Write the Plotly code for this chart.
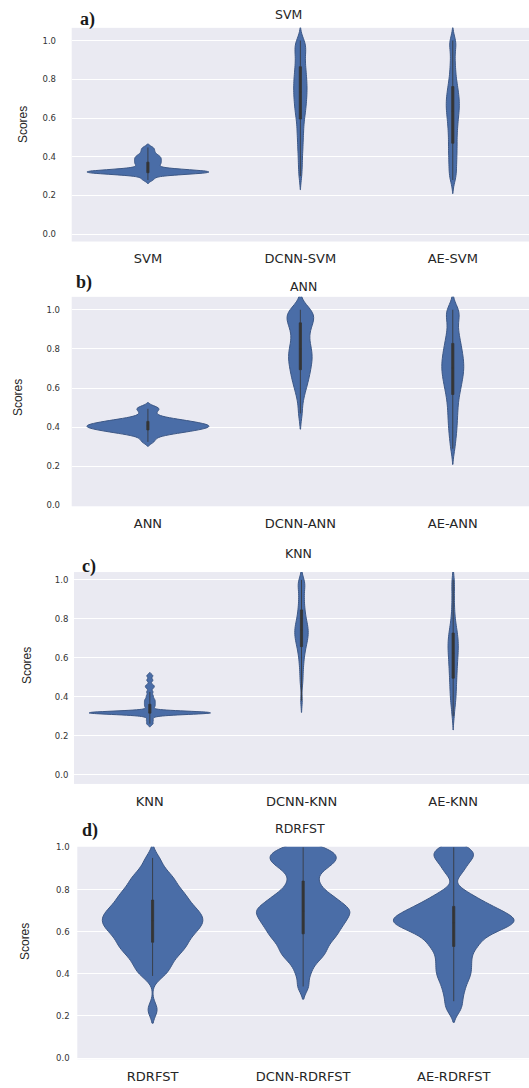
import plotly.graph_objects as go

# ------------------------------------------------------------------ data
panel_titles = ["SVM", "ANN", "KNN", "RDRFST"]
panel_letters = ["a)", "b)", "c)", "d)"]

svm_cats = ["SVM", "DCNN-SVM", "AE-SVM"]
ann_cats = ["ANN", "DCNN-ANN", "AE-ANN"]
knn_cats = ["KNN", "DCNN-KNN", "AE-KNN"]
rdr_cats = ["RDRFST", "DCNN-RDRFST", "AE-RDRFST"]

y_tick_vals = [0.0, 0.2, 0.4, 0.6, 0.8, 1.0]
y_tick_text = ["0.0", "0.2", "0.4", "0.6", "0.8", "1.0"]

# panel a) scores
svm_scores = [0.280, 0.292, 0.305, 0.309, 0.311, 0.313, 0.314, 0.315, 0.316, 0.317,
              0.318, 0.319, 0.320, 0.321, 0.322, 0.323, 0.324, 0.325, 0.326, 0.327,
              0.329, 0.330, 0.331, 0.333, 0.337, 0.340, 0.350, 0.357, 0.363, 0.369,
              0.375, 0.381, 0.387, 0.393, 0.399, 0.405, 0.413, 0.424, 0.436, 0.448]
dcnn_svm_scores = [0.30, 0.35, 0.39, 0.43, 0.46, 0.49, 0.52, 0.54, 0.57, 0.59,
                   0.61, 0.63, 0.64, 0.66, 0.67, 0.685, 0.70, 0.71, 0.725, 0.735,
                   0.75, 0.76, 0.77, 0.785, 0.80, 0.81, 0.82, 0.84, 0.85, 0.87,
                   0.88, 0.90, 0.92, 0.935, 0.95, 0.965, 0.98, 0.99, 1.0]
ae_svm_scores = [0.28, 0.30, 0.32, 0.345, 0.365, 0.385, 0.405, 0.425, 0.445, 0.46,
                 0.48, 0.50, 0.52, 0.535, 0.555, 0.57, 0.585, 0.60, 0.615, 0.63,
                 0.64, 0.65, 0.665, 0.675, 0.69, 0.70, 0.71, 0.725, 0.74, 0.755,
                 0.77, 0.79, 0.81, 0.84, 0.865, 0.90, 0.935, 0.975, 0.99, 1.0]

# panel b) scores
ann_scores = [0.325, 0.343, 0.357, 0.364, 0.369, 0.373, 0.376, 0.379, 0.382, 0.385,
              0.387, 0.390, 0.392, 0.394, 0.396, 0.398, 0.400, 0.402, 0.404, 0.406,
              0.408, 0.410, 0.412, 0.414, 0.416, 0.418, 0.420, 0.423, 0.425, 0.428,
              0.431, 0.434, 0.437, 0.441, 0.446, 0.453, 0.467, 0.483, 0.494, 0.503]
dcnn_ann_scores = [0.47, 0.54, 0.58, 0.605, 0.625, 0.645, 0.66, 0.675, 0.69, 0.705,
                   0.718, 0.73, 0.742, 0.754, 0.766, 0.777, 0.789, 0.80, 0.815, 0.829,
                   0.844, 0.862, 0.881, 0.90, 0.912, 0.924, 0.936, 0.948, 0.957, 0.966,
                   0.975, 0.985, 0.994, 1.0, 1.0]
ae_ann_scores = [0.29, 0.34, 0.375, 0.405, 0.435, 0.46, 0.487, 0.512, 0.535, 0.557,
                 0.577, 0.593, 0.608, 0.624, 0.637, 0.65, 0.662, 0.675, 0.686, 0.697,
                 0.708, 0.719, 0.73, 0.742, 0.754, 0.765, 0.778, 0.792, 0.806, 0.82,
                 0.836, 0.853, 0.871, 0.894, 0.918, 0.945, 0.975, 0.985, 0.995, 1.0]

# panel c) scores
knn_scores = [0.262, 0.280, 0.298, 0.312, 0.313, 0.314, 0.315, 0.315, 0.316, 0.316,
              0.317, 0.317, 0.317, 0.318, 0.318, 0.319, 0.319, 0.319, 0.320, 0.320,
              0.321, 0.321, 0.322, 0.323, 0.324, 0.345, 0.356, 0.367, 0.378, 0.389,
              0.405, 0.425, 0.447, 0.459, 0.485, 0.508]
dcnn_knn_scores = [0.38, 0.465, 0.50, 0.535, 0.563, 0.586, 0.606, 0.626, 0.638, 0.651,
                   0.664, 0.676, 0.684, 0.692, 0.70, 0.708, 0.716, 0.724, 0.731, 0.739,
                   0.746, 0.754, 0.761, 0.769, 0.777, 0.788, 0.80, 0.811, 0.823, 0.838,
                   0.854, 0.87, 0.889, 0.908, 0.928, 0.948, 0.968, 0.98, 0.99, 1.0]
ae_knn_scores = [0.30, 0.347, 0.373, 0.394, 0.415, 0.434, 0.452, 0.471, 0.487, 0.504,
                 0.52, 0.535, 0.55, 0.564, 0.578, 0.591, 0.604, 0.617, 0.629, 0.64,
                 0.651, 0.662, 0.673, 0.685, 0.696, 0.708, 0.72, 0.734, 0.75, 0.767,
                 0.791, 0.821, 0.862, 0.91, 0.962, 1.0]

# panel d) scores
rdrfst_scores = [0.23, 0.39, 0.41, 0.43, 0.45, 0.47, 0.48, 0.50, 0.51, 0.52,
                 0.53, 0.54, 0.55, 0.56, 0.57, 0.58, 0.59, 0.60, 0.605, 0.61,
                 0.62, 0.63, 0.635, 0.64, 0.65, 0.655, 0.66, 0.67, 0.675, 0.68,
                 0.69, 0.70, 0.705, 0.71, 0.72, 0.73, 0.74, 0.75, 0.76, 0.77,
                 0.78, 0.79, 0.80, 0.82, 0.83, 0.85, 0.86, 0.88, 0.91, 0.95]
dcnn_rdrfst_scores = [0.34, 0.40, 0.44, 0.47, 0.485, 0.50, 0.515, 0.53, 0.545, 0.56,
                      0.57, 0.58, 0.59, 0.60, 0.61, 0.62, 0.63, 0.64, 0.645, 0.655,
                      0.66, 0.67, 0.68, 0.69, 0.695, 0.70, 0.705, 0.71, 0.72, 0.73,
                      0.74, 0.75, 0.76, 0.77, 0.78, 0.80, 0.82, 0.84, 0.87, 0.89,
                      0.91, 0.92, 0.93, 0.94, 0.95, 0.96, 0.97, 0.98, 0.99, 1.0]
ae_rdrfst_scores = [0.23, 0.27, 0.31, 0.34, 0.37, 0.39, 0.41, 0.43, 0.45, 0.47,
                    0.49, 0.51, 0.53, 0.54, 0.55, 0.57, 0.58, 0.59, 0.60, 0.61,
                    0.615, 0.62, 0.63, 0.635, 0.64, 0.645, 0.65, 0.655, 0.66, 0.665,
                    0.67, 0.675, 0.68, 0.69, 0.70, 0.705, 0.71, 0.72, 0.73, 0.74,
                    0.755, 0.77, 0.79, 0.88, 0.91, 0.94, 0.955, 0.97, 0.985, 1.0]

panel_cats = [svm_cats, ann_cats, knn_cats, rdr_cats]
panel_scores = [
    [svm_scores, dcnn_svm_scores, ae_svm_scores],
    [ann_scores, dcnn_ann_scores, ae_ann_scores],
    [knn_scores, dcnn_knn_scores, ae_knn_scores],
    [rdrfst_scores, dcnn_rdrfst_scores, ae_rdrfst_scores],
]

# ------------------------------------------------------------------ style / layout
W, H = 529, 1088
kde_bandwidths = [[0.009, 0.035, 0.035],
                  [0.011, 0.04, 0.04],
                  [0.008, 0.03, 0.035],
                  [0.032, 0.03, 0.03]]
panel_geom = [
    dict(top=24, bottom=239.3, left=71.7, yr=[-0.038, 1.066], ylen=13),
    dict(top=295, bottom=506, left=71.7, yr=[-0.004, 1.066], ylen=9),
    dict(top=572.3, bottom=785.7, left=74, yr=[-0.047, 1.04], ylen=3),
    dict(top=849, bottom=1063, left=77.3, yr=[-0.005, 1.003], ylen=5),
]
title_pos = [(288, 11), (303, 285), (298, 554), (300, 831)]
letter_pos = [(87, 16), (84, 281), (89, 567), (90, 833)]
ylabel_pos = [(23, 122), (18, 397), (27, 667), (25, 945)]

VIOLIN_FILL = "#4A6DA7"
VIOLIN_EDGE = "#3C5785"
BOX_COLOR = "#353535"
BG = "#EAEAF2"

fig = go.Figure()
layout = dict(
    width=W, height=H, margin=dict(l=0, r=0, t=0, b=0),
    paper_bgcolor="white", plot_bgcolor=BG, showlegend=False,
    violinmode="overlay", violingap=0.2, violingroupgap=0,
    annotations=[],
)

for i in range(4):
    g = panel_geom[i]
    xa = "x" if i == 0 else f"x{i+1}"
    ya = "y" if i == 0 else f"y{i+1}"
    xkey = "xaxis" if i == 0 else f"xaxis{i+1}"
    ykey = "yaxis" if i == 0 else f"yaxis{i+1}"
    layout[xkey] = dict(
        domain=[g["left"] / W, 1.0], anchor=ya, type="category",
        categoryorder="array", categoryarray=panel_cats[i], range=[-0.5, 2.5],
        showgrid=False, zeroline=False, showline=False,
        ticks="outside", ticklen=5, tickcolor="rgba(0,0,0,0)",
        tickfont=dict(family="DejaVu Sans", size=13, color="#262626"),
    )
    layout[ykey] = dict(
        domain=[1 - g["bottom"] / H, 1 - g["top"] / H], anchor=xa,
        range=g["yr"], tickvals=y_tick_vals, ticktext=y_tick_text,
        showgrid=True, gridcolor="white", gridwidth=1,
        zeroline=False, showline=False,
        ticks="outside", ticklen=g["ylen"], tickcolor="rgba(0,0,0,0)",
        tickfont=dict(family="DejaVu Sans", size=8.5, color="#333333"),
    )
    for j in range(3):
        vals = panel_scores[i][j]
        fig.add_trace(go.Violin(
            x=[panel_cats[i][j]] * len(vals), y=vals, xaxis=xa, yaxis=ya,
            name=panel_cats[i][j], scalegroup=f"p{i}", scalemode="width",
            bandwidth=kde_bandwidths[i][j], spanmode="soft", points=False,
            fillcolor=VIOLIN_FILL, line=dict(color=VIOLIN_EDGE, width=1),
            box=dict(visible=True, width=0.018, fillcolor=BOX_COLOR,
                     line=dict(color=BOX_COLOR, width=0.8)),
            meanline=dict(visible=False), hoverinfo="skip",
        ))
    tx, ty = title_pos[i]
    layout["annotations"].append(dict(
        text=panel_titles[i], x=tx / W, y=1 - ty / H, xref="paper", yref="paper",
        showarrow=False, xanchor="center", yanchor="middle",
        font=dict(family="DejaVu Sans", size=12.5, color="#262626")))
    lx, ly = letter_pos[i]
    layout["annotations"].append(dict(
        text="<b>" + panel_letters[i] + "</b>", x=lx / W, y=1 - ly / H,
        xref="paper", yref="paper", showarrow=False,
        xanchor="center", yanchor="middle",
        font=dict(family="Liberation Serif", size=18, color="#1a1a1a")))
    sx, sy = ylabel_pos[i]
    layout["annotations"].append(dict(
        text="Scores", x=sx / W, y=1 - sy / H, xref="paper", yref="paper",
        showarrow=False, xanchor="center", yanchor="middle", textangle=-90,
        font=dict(family="Liberation Sans", size=12, color="#262626")))

fig.update_layout(**layout)
fig.write_html("out.html")
